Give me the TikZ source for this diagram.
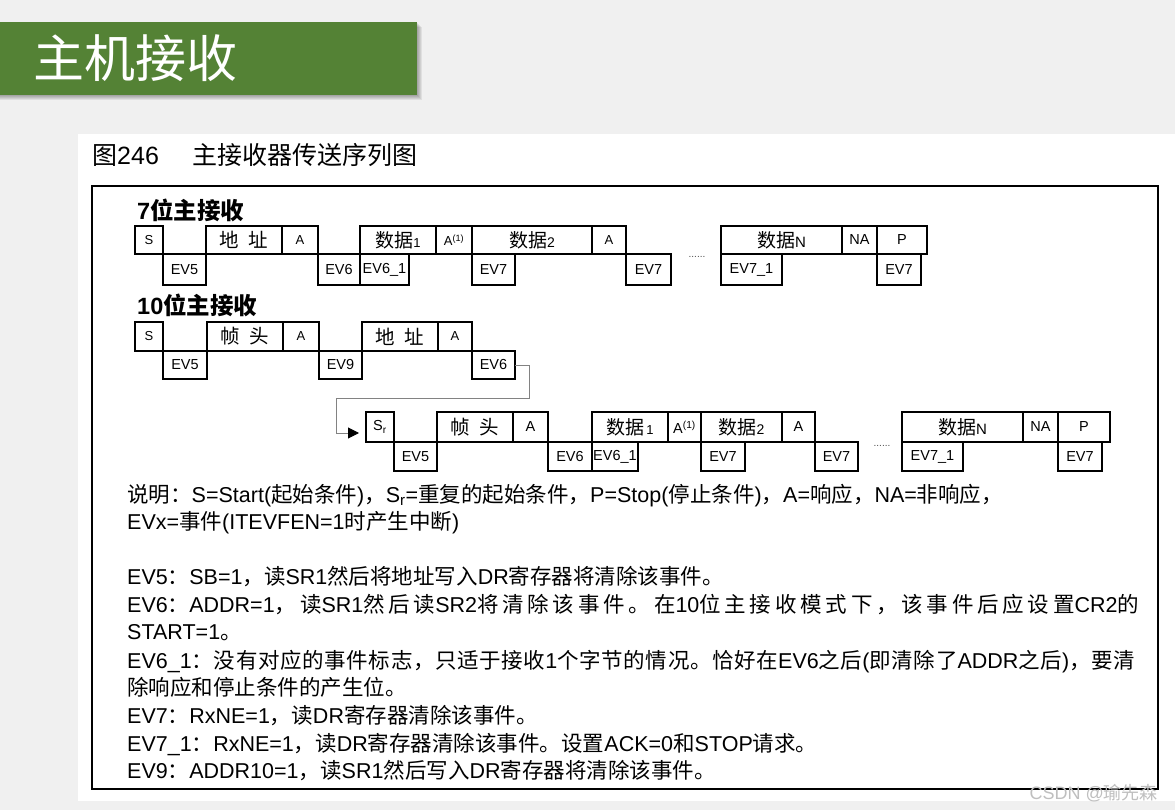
\documentclass[tikz,border=0pt]{standalone}
\usepackage{fontspec}
\setmainfont{Liberation Sans}
\newfontfamily\cjk{Noto Sans CJK SC}
\newfontfamily\cjksp[LetterSpace=17.5]{Noto Sans CJK SC}
\newfontfamily\cjkspb[LetterSpace=3]{Noto Sans CJK SC}
\usetikzlibrary{arrows.meta}
\newcommand\z[1]{{\cjk #1}}
\newcommand\zs[1]{{\cjksp #1}}
\newcommand\zb[1]{{\cjkspb #1}}
\newcommand\fs[1]{\fontsize{#1}{#1}\selectfont}
\definecolor{bgcol}{RGB}{240,240,240}
\definecolor{bannergreen}{RGB}{84,130,53}
\definecolor{conncol}{RGB}{130,130,130}
\newcommand\sigbx[7][]{\node[sigbox,#1,minimum width={(#5-#3)*1pt},minimum height={(#6-#4)*1pt}] (#2) at ({(#3+#5)/2},{(#4+#6)/2}) {#7};}
\tikzset{
  sigbox/.style={draw,line width=2.4pt,inner sep=0pt,outer sep=0pt,font=\fs{14.5}},
  small/.style={font=\fs{13}},
  txt/.style={anchor=base west,inner sep=0pt,font=\fs{21.5}},
  rowtitle/.style={anchor=base west,inner sep=0pt,font=\fs{23.5}\bfseries},
  dots/.style={inner sep=0pt,font=\fs{10},text=black!70},
  conn/.style={draw=conncol,line width=1pt,-{Triangle[length=11pt,width=11pt,color=black,fill=black]},shorten >=7pt},
}
\begin{document}
\begin{tikzpicture}[x=1pt,y=-1pt]
\useasboundingbox (0,0) rectangle (1175,810);
\fill[bgcol] (0,0) rectangle (1175,810);
\fill[white] (78,134) rectangle (1175,801);
% banner
\foreach \i in {1,...,5} \fill[black,opacity=0.07] (0,22+\i) rectangle (417+\i,95+\i);
\fill[bannergreen] (0,22) rectangle (417,95);
\node[anchor=west,inner sep=0pt,text=white,font=\cjk\fs{51}] (title) at (33,58) {主机接收};
% figure caption
\node[anchor=base west,inner sep=0pt,font=\fs{25}] (cap) at (92,165) {\z{图}246\hspace{34pt}\z{主接收器传送序列图}};
% frame
\draw[line width=1.8pt] (92,186) rectangle (1158,789);

% ---- row 1: 7-bit
\node[rowtitle] (t7) at (137,220) {7\z{位主接收}};
\sigbx[small]{r1s}{135}{226}{163}{254}{S}
\sigbx{r1ev5}{163}{254}{206}{285}{EV5}
\sigbx{r1addr}{206}{226}{282}{254}{\z{\fs{19.5}地\hspace{10pt}址}}
\sigbx[small]{r1a}{282}{226}{318}{254}{A}
\sigbx{r1ev6}{318}{254}{360}{285}{EV6}
\sigbx{r1d1}{360}{226}{436}{254}{\z{\fs{19}数据}{\fs{13}1}}
\sigbx{r1ev61}{360}{254}{409}{285}{EV6\_1}
\sigbx[small]{r1a1}{436}{226}{472}{254}{A\textsuperscript{(1)}}
\sigbx{r1d2}{472}{226}{592}{254}{\z{\fs{19}数据}{\fs{14}2}}
\sigbx{r1ev7a}{472}{254}{515}{285}{EV7}
\sigbx[small]{r1a2}{592}{226}{626}{254}{A}
\sigbx{r1ev7b}{626}{254}{671}{285}{EV7}
\node[dots] (r1dots) at (697,257) {......};
\sigbx{r1dn}{721}{226}{842}{254}{\z{\fs{19}数据}{\fs{15}N}}
\sigbx{r1na}{842}{226}{877}{254}{NA}
\sigbx{r1p}{877}{226}{927}{254}{P}
\sigbx{r1ev71}{721}{254}{782}{285}{EV7\_1}
\sigbx{r1ev7c}{877}{254}{921}{285}{EV7}

% ---- row 2: 10-bit
\node[rowtitle] (t10) at (137,314) {10\z{位主接收}};
\sigbx[small]{r2s}{135}{322}{163}{351}{S}
\sigbx{r2ev5}{163}{351}{207}{379}{EV5}
\sigbx{r2hdr}{207}{322}{283}{351}{\z{\fs{19.5}帧\hspace{10pt}头}}
\sigbx[small]{r2a}{283}{322}{319}{351}{A}
\sigbx{r2ev9}{319}{351}{362}{379}{EV9}
\sigbx{r2addr}{362}{322}{438}{351}{\z{\fs{19.5}地\hspace{10pt}址}}
\sigbx[small]{r2a2}{438}{322}{472}{351}{A}
\sigbx{r2ev6}{472}{351}{515}{379}{EV6}

% ---- row 3: repeated start
\sigbx{r3sr}{366}{412}{394}{442}{S\textsubscript{r}}
\sigbx{r3ev5}{394}{442}{437}{471}{EV5}
\sigbx{r3hdr}{437}{412}{513}{442}{\z{\fs{19.5}帧\hspace{10pt}头}}
\sigbx{r3a}{513}{412}{548}{442}{A}
\sigbx{r3ev6}{548}{442}{592}{471}{EV6}
\sigbx{r3d1}{592}{412}{668}{442}{\z{\fs{19}数据}{\fs{13}\,1}}
\sigbx{r3ev61}{592}{442}{638}{471}{EV6\_1}
\sigbx{r3a1}{668}{412}{701}{442}{A\textsuperscript{(1)}}
\sigbx{r3d2}{701}{412}{782}{442}{\z{\fs{19}数据}{\fs{14}2}}
\sigbx{r3ev7a}{701}{442}{745}{471}{EV7}
\sigbx{r3a2}{782}{412}{815}{442}{A}
\sigbx{r3ev7b}{815}{442}{858}{471}{EV7}
\node[dots] (r3dots) at (882,446) {......};
\sigbx{r3dn}{902}{412}{1023}{442}{\z{\fs{19}数据}{\fs{15}N}}
\sigbx{r3na}{1023}{412}{1058}{442}{NA}
\sigbx{r3p}{1058}{412}{1110}{442}{P}
\sigbx{r3ev71}{902}{442}{963}{471}{EV7\_1}
\sigbx{r3ev7c}{1058}{442}{1102}{471}{EV7}

% connector
\draw[conn] (r2ev6.east) -- (529,365) |- (336,398) |- ([yshift=-6pt]r3sr.west);

% explanation text
\node[txt] (l1) at (127,502.5) {\z{说明：}S=Start(\z{起始条件})\z{，}S\textsubscript{r}=\z{重复的起始条件，}P=Stop(\z{停止条件})\z{，}A=\z{响应，}NA=\z{非响应，}};
\node[txt] (l2) at (127,529.5) {EVx=\z{事件}(ITEVFEN=1\z{时产生中断})};
\node[txt] (l3) at (127,584.5) {EV5\z{：}SB=1\z{，读}SR1\z{然后将地址写入}DR\z{寄存器将清除该事件。}};
\node[txt] (l4) at (127,612.5) {EV6\zs{：}ADDR=1\zs{，读}SR1\zs{然后读}SR2\zs{将清除该事件。在}10\zs{位主接收模式下，该事件后应设置}CR2\z{的}};
\node[txt] (l5) at (127,639.5) {START=1\z{。}};
\node[txt] (l6) at (127,668.5) {EV6\_1\zb{：没有对应的事件标志，只适于接收}1\zb{个字节的情况。恰好在}EV6\zb{之后}(\zb{即清除了}ADDR\zb{之后})\zb{，要清}};
\node[txt] (l7) at (127,695.5) {\z{除响应和停止条件的产生位。}};
\node[txt] (l8) at (127,723.5) {EV7\z{：}RxNE=1\z{，读}DR\z{寄存器清除该事件。}};
\node[txt] (l9) at (127,751.5) {EV7\_1\z{：}RxNE=1\z{，读}DR\z{寄存器清除该事件。设置}ACK=0\z{和}STOP\z{请求。}};
\node[txt] (l10) at (127,778.5) {EV9\z{：}ADDR10=1\z{，读}SR1\z{然后写入}DR\z{寄存器将清除该事件。}};

% watermark
\node[anchor=base east,inner sep=0pt,font=\fs{18},text=black!25] (wm) at (1158,799) {CSDN @\z{瑜先森}};
\end{tikzpicture}
\end{document}
